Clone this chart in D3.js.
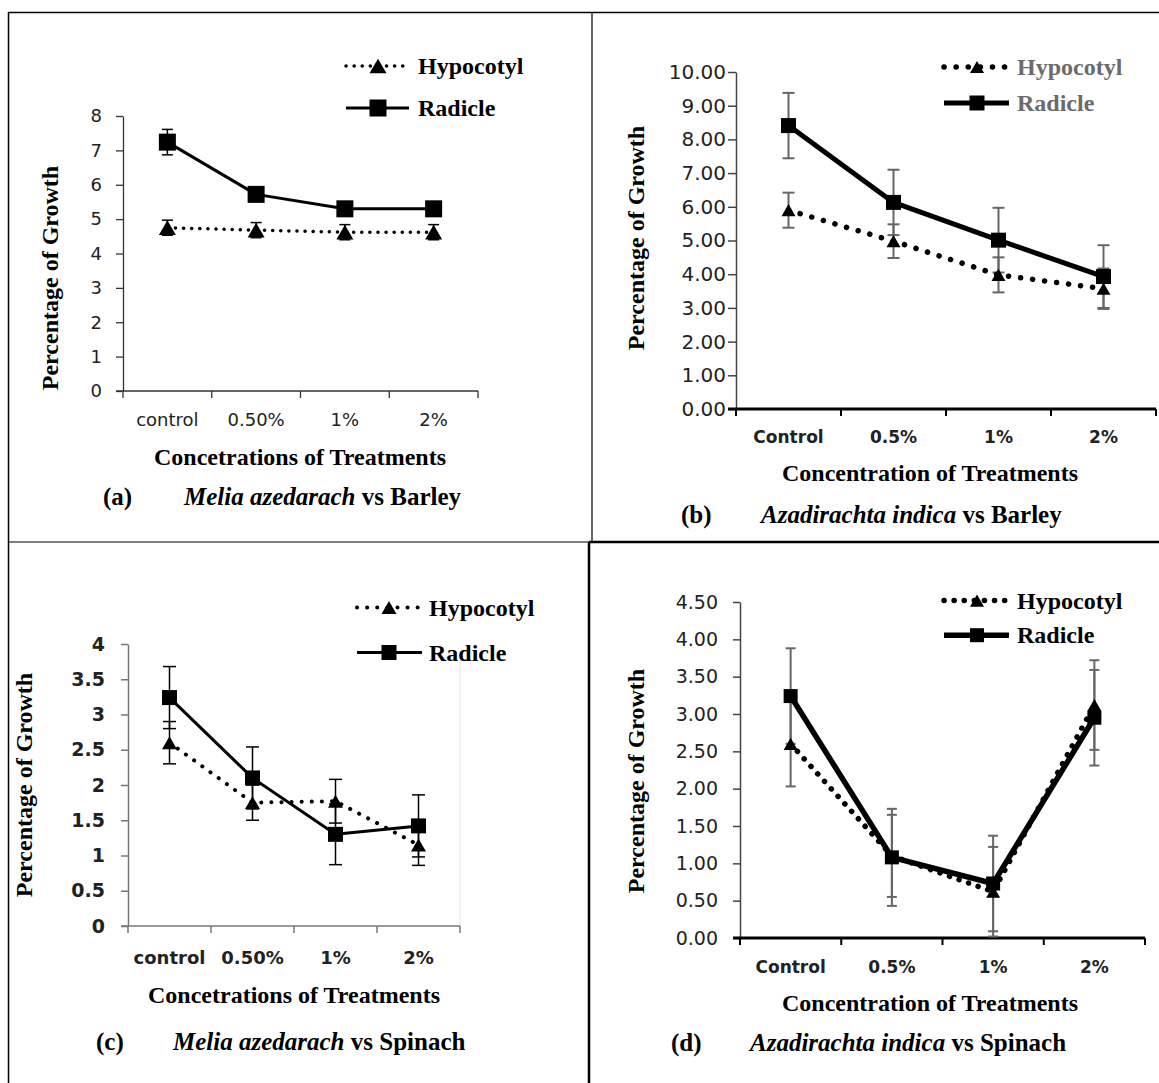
<!DOCTYPE html>
<html>
<head>
<meta charset="utf-8">
<script src="https://cdn.jsdelivr.net/npm/d3@7"></script>
<style>
  body { margin: 0; background: #fff; }
  svg { display: block; }
</style>
</head>
<body>
<div id="fig"></div>
<script>
// categories
const catsMelia = ["control", "0.50%", "1%", "2%"];
const catsNeem = ["Control", "0.5%", "1%", "2%"];
const seriesNames = ["Hypocotyl", "Radicle"];

// (a) Melia azedarach vs Barley
const hypoA = [4.75, 4.68, 4.62, 4.62];
const hypoErrA = [0.22, 0.22, 0.22, 0.22];
const radA = [7.24, 5.72, 5.3, 5.3];
const radErrA = [0.37, 0.15, 0.12, 0.12];
const ticksA = [0, 1, 2, 3, 4, 5, 6, 7, 8];

// (b) Azadirachta indica vs Barley
const hypoB = [5.9, 4.98, 3.98, 3.57];
const hypoErrB = [0.52, 0.5, 0.52, 0.6];
const radB = [8.41, 6.13, 5.01, 3.93];
const radErrB = [0.97, 0.97, 0.96, 0.93];
const ticksB = [0, 1, 2, 3, 4, 5, 6, 7, 8, 9, 10];

// (c) Melia azedarach vs Spinach
const hypoC = [2.6, 1.75, 1.77, 1.15];
const hypoErrC = [0.3, 0.25, 0.31, 0.29];
const radC = [3.24, 2.1, 1.3, 1.42];
const radErrC = [0.44, 0.44, 0.43, 0.44];
const ticksC = [0, 0.5, 1, 1.5, 2, 2.5, 3, 3.5, 4];

// (d) Azadirachta indica vs Spinach
const hypoD = [2.6, 1.1, 0.62, 3.12];
const hypoErrD = [0.57, 0.55, 0.6, 0.6];
const radD = [3.24, 1.08, 0.73, 2.95];
const radErrD = [0.64, 0.65, 0.64, 0.64];
const ticksD = [0, 0.5, 1, 1.5, 2, 2.5, 3, 3.5, 4, 4.5];

const SERIF = "'Liberation Serif','Times New Roman',serif";
const SANS = "'DejaVu Sans',sans-serif";

const svg = d3.select("#fig").append("svg")
    .attr("width", 1159)
    .attr("height", 1083);

// panel frame
const frame = svg.append("g").attr("stroke", "#000").attr("fill", "none");
frame.append("line").attr("x1", 8).attr("x2", 1159).attr("y1", 12.5).attr("y2", 12.5).attr("stroke-width", 1.5);
frame.append("line").attr("x1", 8.5).attr("x2", 8.5).attr("y1", 12).attr("y2", 1083).attr("stroke-width", 1.5);
frame.append("line").attr("x1", 592).attr("x2", 592).attr("y1", 12).attr("y2", 542).attr("stroke-width", 1.2);
frame.append("line").attr("x1", 8).attr("x2", 589).attr("y1", 542).attr("y2", 542).attr("stroke-width", 1.2);
frame.append("line").attr("x1", 589).attr("x2", 1159).attr("y1", 542).attr("y2", 542).attr("stroke-width", 2.5);
frame.append("line").attr("x1", 589).attr("x2", 589).attr("y1", 542).attr("y2", 1083).attr("stroke-width", 2.5);

function drawPanel(p) {
    const x = d3.scaleBand().domain(p.cats).range([p.x0, p.x1]);
    const y = d3.scaleLinear().domain([0, d3.max(p.ticks)]).range([p.yBottom, p.yTop]);
    const g = svg.append("g");

    if (p.rightEdge) {
        g.append("line")
            .attr("x1", p.x1).attr("x2", p.x1)
            .attr("y1", p.yTop + 15).attr("y2", p.yBottom)
            .attr("stroke", "#ececec").attr("stroke-width", 1.5);
    }

    // y axis
    const yAxis = g.append("g")
        .attr("transform", `translate(${p.x0},0)`)
        .call(d3.axisLeft(y)
            .tickValues(p.ticks)
            .tickFormat(p.fmt)
            .tickSize(p.tickLen)
            .tickSizeOuter(0)
            .tickPadding(p.tickPad));
    yAxis.select(".domain").attr("stroke", p.yAxisColor).attr("stroke-width", p.yAxisW);
    yAxis.selectAll(".tick line").attr("stroke", p.yAxisColor).attr("stroke-width", p.yAxisW);
    yAxis.selectAll(".tick text")
        .style("font-family", SANS)
        .style("font-size", p.tickFont + "px")
        .style("font-weight", p.tickBold ? "bold" : "normal")
        .attr("fill", p.tickColor);

    // x axis: labels at band centres, ticks between categories (Excel style)
    const xAxis = g.append("g")
        .attr("transform", `translate(0,${p.yBottom})`)
        .call(d3.axisBottom(x).tickSize(0).tickPadding(0));
    xAxis.select(".domain").remove();
    xAxis.selectAll(".tick text")
        .attr("y", p.catY - p.yBottom)
        .attr("dy", "0.36em")
        .style("font-family", SANS)
        .style("font-size", p.catFont + "px")
        .style("font-weight", p.catBold ? "bold" : "normal")
        .attr("fill", p.tickColor);
    const bounds = p.cats.map(c => x(c)).concat([x.range()[1]]);
    xAxis.append("line")
        .attr("x1", p.x0 - p.tickLen).attr("x2", p.x1)
        .attr("stroke", p.xAxisColor).attr("stroke-width", p.xAxisW);
    xAxis.selectAll("line.bt").data(bounds).join("line")
        .attr("class", "bt")
        .attr("x1", d => d).attr("x2", d => d)
        .attr("y1", 0).attr("y2", 7)
        .attr("stroke", p.xAxisColor).attr("stroke-width", Math.min(p.xAxisW, 2));

    const pts = (vals, errs) => p.cats.map((c, i) => ({ c: c, v: vals[i], e: errs[i] }));
    const hyp = pts(p.hypo, p.hypoErr);
    const rad = pts(p.rad, p.radErr);
    const cx = d => x(d.c) + x.bandwidth() / 2;

    // error bars
    [hyp, rad].forEach(s => {
        const eb = g.append("g").attr("stroke", p.errColor).attr("stroke-width", p.errW);
        eb.selectAll("line.v").data(s).join("line")
            .attr("class", "v")
            .attr("x1", cx).attr("x2", cx)
            .attr("y1", d => y(d.v + d.e)).attr("y2", d => y(d.v - d.e));
        eb.selectAll("line.t").data(s).join("line")
            .attr("class", "t")
            .attr("x1", d => cx(d) - p.capW / 2).attr("x2", d => cx(d) + p.capW / 2)
            .attr("y1", d => y(d.v + d.e)).attr("y2", d => y(d.v + d.e));
        eb.selectAll("line.b").data(s).join("line")
            .attr("class", "b")
            .attr("x1", d => cx(d) - p.capW / 2).attr("x2", d => cx(d) + p.capW / 2)
            .attr("y1", d => y(d.v - d.e)).attr("y2", d => y(d.v - d.e));
    });

    const line = d3.line().x(cx).y(d => y(d.v));
    const dotted = sel => sel
        .attr("fill", "none").attr("stroke", "#000")
        .attr("stroke-width", p.dotW)
        .attr("stroke-linecap", "round")
        .attr("stroke-dasharray", `0.1 ${p.dotGap}`);
    const solid = sel => sel
        .attr("fill", "none").attr("stroke", "#000")
        .attr("stroke-width", p.radW)
        .attr("stroke-linejoin", "round");

    g.append("path").datum(hyp).attr("d", line).call(dotted);
    g.append("path").datum(rad).attr("d", line).call(solid);

    const triH = p.tri * Math.sqrt(3) / 2;
    const tri = d3.symbol(d3.symbolTriangle, p.tri * p.tri * Math.sqrt(3) / 4);
    const sq = d3.symbol(d3.symbolSquare, p.sq * p.sq);

    g.selectAll("path.tri").data(hyp).join("path")
        .attr("class", "tri")
        .attr("transform", d => `translate(${cx(d)},${y(d.v) + triH / 6})`)
        .attr("d", tri).attr("fill", "#000");
    g.selectAll("path.sq").data(rad).join("path")
        .attr("class", "sq")
        .attr("transform", d => `translate(${cx(d)},${y(d.v)})`)
        .attr("d", sq).attr("fill", "#000");

    // legend
    const leg = g.append("g");
    seriesNames.forEach((name, i) => {
        const ly = p.legY[i];
        const l = leg.append("line")
            .attr("x1", p.legX[0]).attr("x2", p.legX[1])
            .attr("y1", ly).attr("y2", ly);
        if (i === 0) {
            l.call(dotted);
            leg.append("path")
                .attr("transform", `translate(${p.legMX},${ly + triH / 6})`)
                .attr("d", tri).attr("fill", "#000");
        } else {
            l.call(solid);
            leg.append("path")
                .attr("transform", `translate(${p.legMX},${ly})`)
                .attr("d", sq).attr("fill", "#000");
        }
        leg.append("text")
            .attr("x", p.legTX).attr("y", ly + 8)
            .style("font-family", SERIF).style("font-size", "24px").style("font-weight", "bold")
            .attr("fill", p.legColor)
            .text(name);
    });

    // axis titles
    g.append("text")
        .attr("x", p.xTitleX).attr("y", p.xTitleY)
        .attr("text-anchor", "middle")
        .style("font-family", SERIF).style("font-size", "24px").style("font-weight", "bold")
        .text(p.xTitle);

    g.append("text")
        .attr("transform", `translate(${p.yTitleX},${p.yTitleY}) rotate(-90)`)
        .attr("text-anchor", "middle")
        .style("font-family", SERIF).style("font-size", "24px").style("font-weight", "bold")
        .text("Percentage of Growth");

    // panel caption
    const cap = g.append("g")
        .style("font-family", SERIF).style("font-size", "25px").style("font-weight", "bold");
    cap.append("text").attr("x", p.labelX).attr("y", p.subY).text(p.label);
    const t = cap.append("text").attr("x", p.speciesX).attr("y", p.subY);
    t.append("tspan").style("font-style", "italic").text(p.species);
    t.append("tspan").text(p.crop);
}

drawPanel({
    cats: catsMelia, hypo: hypoA, hypoErr: hypoErrA, rad: radA, radErr: radErrA,
    ticks: ticksA, fmt: d3.format("d"),
    x0: 123, x1: 478, yTop: 116, yBottom: 391,
    tickLen: 7, tickPad: 14, tickFont: 18, tickBold: false, tickColor: "#222",
    catFont: 18, catBold: false, catY: 420,
    yAxisColor: "#333", yAxisW: 1.3, xAxisColor: "#333", xAxisW: 1.3,
    errColor: "#000", errW: 1.5, capW: 11,
    dotW: 3.5, dotGap: 8, radW: 3, sq: 17, tri: 17,
    legY: [66, 108], legX: [346, 409], legMX: 378, legTX: 418, legColor: "#000",
    xTitle: "Concetrations of Treatments", xTitleX: 300, xTitleY: 465,
    yTitleX: 58, yTitleY: 278,
    label: "(a)", labelX: 103, speciesX: 184, subY: 505,
    species: "Melia azedarach", crop: " vs Barley"
});

drawPanel({
    cats: catsNeem, hypo: hypoB, hypoErr: hypoErrB, rad: radB, radErr: radErrB,
    ticks: ticksB, fmt: d3.format(".2f"),
    x0: 736, x1: 1156, yTop: 72, yBottom: 409,
    tickLen: 8, tickPad: 2, tickFont: 20, tickBold: false, tickColor: "#222",
    catFont: 17, catBold: true, catY: 437,
    yAxisColor: "#444", yAxisW: 1.5, xAxisColor: "#000", xAxisW: 3,
    errColor: "#666", errW: 2, capW: 12,
    dotW: 5.5, dotGap: 12, radW: 5, sq: 15, tri: 14,
    legY: [67, 103], legX: [944, 1009], legMX: 977, legTX: 1017, legColor: "#6b6b6b",
    xTitle: "Concentration of Treatments", xTitleX: 930, xTitleY: 481,
    yTitleX: 644, yTitleY: 238,
    label: "(b)", labelX: 681, speciesX: 761, subY: 523,
    species: "Azadirachta indica", crop: " vs Barley"
});

drawPanel({
    cats: catsMelia, hypo: hypoC, hypoErr: hypoErrC, rad: radC, radErr: radErrC,
    ticks: ticksC, fmt: d => String(d),
    x0: 128, x1: 460, yTop: 644, yBottom: 926, rightEdge: true,
    tickLen: 7, tickPad: 16, tickFont: 19, tickBold: true, tickColor: "#222",
    catFont: 18, catBold: true, catY: 958,
    yAxisColor: "#777", yAxisW: 1.5, xAxisColor: "#777", xAxisW: 1.5,
    errColor: "#000", errW: 1.5, capW: 13,
    dotW: 4, dotGap: 10, radW: 3, sq: 15, tri: 15,
    legY: [607.5, 652.5], legX: [357, 422], legMX: 389, legTX: 429, legColor: "#000",
    xTitle: "Concetrations of Treatments", xTitleX: 294, xTitleY: 1003,
    yTitleX: 32, yTitleY: 785,
    label: "(c)", labelX: 96, speciesX: 173, subY: 1050,
    species: "Melia azedarach", crop: " vs Spinach"
});

drawPanel({
    cats: catsNeem, hypo: hypoD, hypoErr: hypoErrD, rad: radD, radErr: radErrD,
    ticks: ticksD, fmt: d3.format(".2f"),
    x0: 740, x1: 1145, yTop: 602, yBottom: 938,
    tickLen: 7, tickPad: 15, tickFont: 19, tickBold: false, tickColor: "#222",
    catFont: 17, catBold: true, catY: 967,
    yAxisColor: "#444", yAxisW: 1.5, xAxisColor: "#000", xAxisW: 3,
    errColor: "#666", errW: 2, capW: 10,
    dotW: 5.5, dotGap: 10, radW: 5.5, sq: 14, tri: 14,
    legY: [600.6, 635.2], legX: [944, 1009], legMX: 977, legTX: 1017, legColor: "#000",
    xTitle: "Concentration of Treatments", xTitleX: 930, xTitleY: 1011,
    yTitleX: 644, yTitleY: 781,
    label: "(d)", labelX: 671, speciesX: 750, subY: 1051,
    species: "Azadirachta indica", crop: " vs Spinach"
});
</script>
</body>
</html>
